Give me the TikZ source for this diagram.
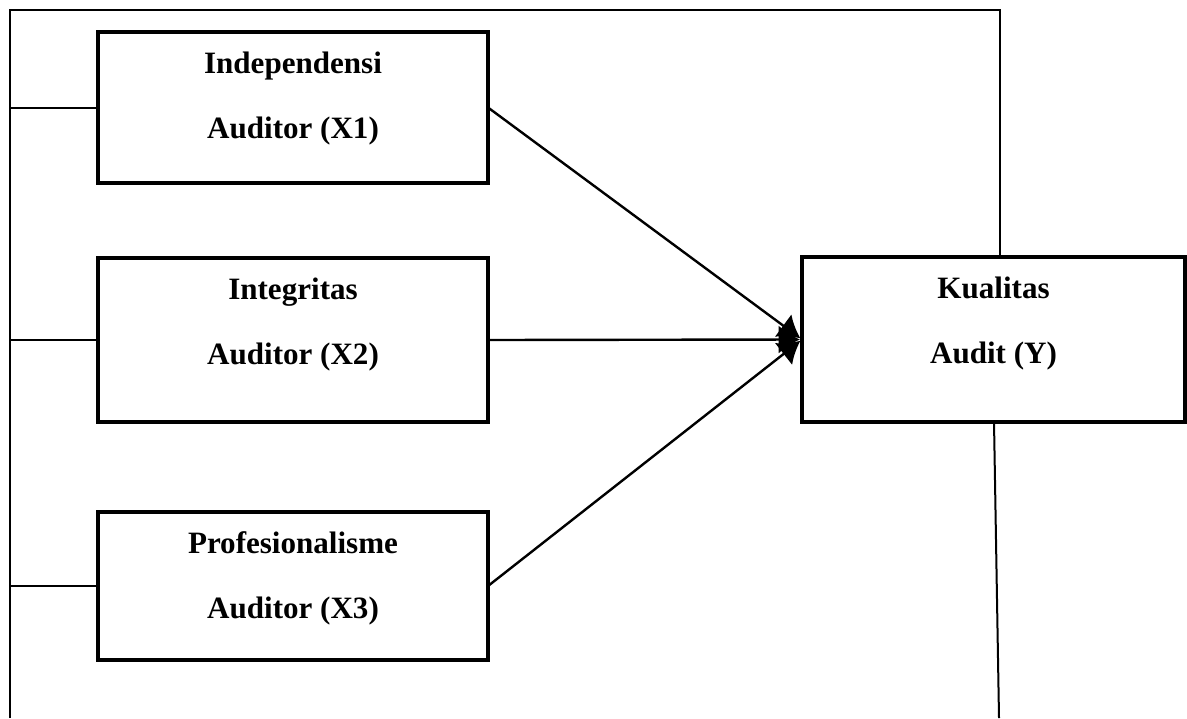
\documentclass[tikz,border=0pt]{standalone}
\usepackage{fontspec}
\setmainfont{Liberation Serif}
\usetikzlibrary{arrows.meta}
\begin{document}
\begin{tikzpicture}[x=0.75pt,y=-0.75pt,
  box/.style={draw,line width=2.6pt,minimum width=#1,inner sep=0pt,outer sep=0pt},
  lbl/.style={anchor=base,inner sep=0pt,font=\fontsize{23.3}{28}\selectfont\bfseries},
  frame/.style={line width=1.5pt},
  link/.style={line width=1.8pt,shorten >=1.5pt,-{Latex[length=16pt,width=21pt]}}]
\useasboundingbox (0,0) rectangle (1187,718);
% boxes
\node[box=292.5pt,minimum height=113.25pt] (x1) at (293,107.5) {};
\node[box=292.5pt,minimum height=123pt] (x2) at (293,340) {};
\node[box=292.5pt,minimum height=111pt] (x3) at (293,586) {};
\node[box=287.25pt,minimum height=123.75pt] (y) at (993.5,339.5) {};
% texts
\node[lbl] (t1a) at (293,73) {Independensi};
\node[lbl] (t1b) at (293,138.5) {Auditor (X1)};
\node[lbl] (t2a) at (293,299) {Integritas};
\node[lbl] (t2b) at (293,364.5) {Auditor (X2)};
\node[lbl] (t3a) at (293,553) {Profesionalisme};
\node[lbl] (t3b) at (293,618.5) {Auditor (X3)};
\node[lbl] (tya) at (993.5,298) {Kualitas};
\node[lbl] (tyb) at (993.5,363.5) {Audit (Y)};
% frame
\coordinate (fbl) at (10,718);
\coordinate (ftl) at (10,10);
\coordinate (ftr) at (1000,10);
\coordinate (fyt) at (1000,257);
\coordinate (fyb) at (994,422);
\coordinate (fbr) at (999,718);
\coordinate (l1) at (10,107.5);
\coordinate (l2) at (10,340);
\coordinate (l3) at (10,586);
\draw[frame] (fbl) -- (ftl) -- (ftr) -- (fyt);
\draw[frame] (fyb) -- (fbr);
\draw[frame] (l1) -- (x1.west);
\draw[frame] (l2) -- (x2.west);
\draw[frame] (l3) -- (x3.west);
% arrows
\draw[link] (x1.east) -- (y.west);
\draw[link] (x2.east) -- (y.west);
\draw[link] (x3.east) -- (y.west);
\end{tikzpicture}
\end{document}
